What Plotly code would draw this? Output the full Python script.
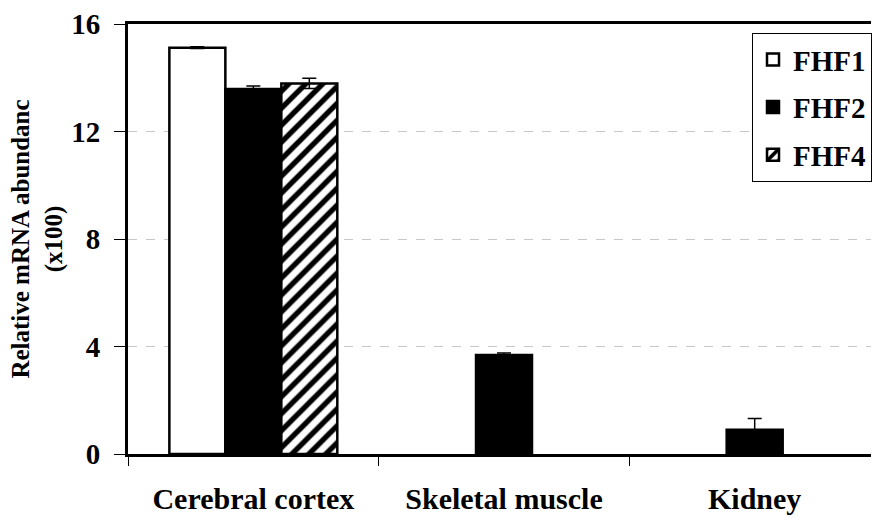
import plotly.graph_objects as go

categories = ["Cerebral cortex", "Skeletal muscle", "Kidney"]
fhf1 = [15.12, None, None]
fhf1_err = [0.03, 0, 0]
fhf2 = [13.58, 3.68, 0.9]
fhf2_err = [0.11, 0.08, 0.42]
fhf4 = [13.79, None, None]
fhf4_err = [0.19, 0, 0]
y_ticks = [0, 4, 8, 12, 16]

FONT = "Liberation Serif"

def err(a):
    return dict(type="data", array=a, symmetric=True, color="black", thickness=1.5, width=7)

fig = go.Figure()
fig.add_trace(go.Bar(name="FHF1", x=categories, y=fhf1, error_y=err(fhf1_err),
                     marker=dict(color="white", line=dict(color="black", width=2.5)),
                     legendgroup="a"))
fig.add_trace(go.Bar(name="FHF2", x=categories, y=fhf2, error_y=err(fhf2_err),
                     marker=dict(color="black", line=dict(color="black", width=2.5)),
                     legendgroup="b"))
fig.add_trace(go.Bar(name="FHF4", x=categories, y=fhf4, error_y=err(fhf4_err),
                     marker=dict(color="white", line=dict(color="black", width=2.5),
                                 pattern=dict(shape="/", fgcolor="black", bgcolor="white",
                                              size=12, solidity=0.45, fillmode="replace")),
                     legendgroup="c"))

fig.update_layout(
    width=872, height=518,
    margin=dict(l=128, r=0, t=24, b=64),
    plot_bgcolor="white", paper_bgcolor="white",
    barmode="group", bargap=0.33, bargroupgap=0,
    font=dict(family=FONT, color="black", size=28, weight="bold"),
    showlegend=True,
    legend=dict(x=0.84, y=0.979, xanchor="left", yanchor="top",
                bordercolor="black", borderwidth=1, bgcolor="white",
                font=dict(size=29, family=FONT, weight="bold"),
                tracegroupgap=7, itemwidth=30),
    xaxis=dict(type="category", range=[-0.5, 2.464],
               showline=True, linecolor="black", linewidth=3, mirror=True,
               ticks="outside", tickson="boundaries", ticklen=9, tickcolor="black", tickwidth=1,
               ticklabelstandoff=16,
               tickfont=dict(size=30, family=FONT, weight="bold"), showgrid=False),
    yaxis=dict(range=[0, 16], tickvals=y_ticks, ticktext=[str(v) for v in y_ticks],
               showline=True, linecolor="black", linewidth=3,
               ticks="outside", ticklen=11, tickcolor="black", tickwidth=1,
               ticklabelstandoff=8,
               tickfont=dict(size=29, family=FONT, weight="bold"),
               showgrid=True, gridcolor="#c8c8c8", griddash="dash", gridwidth=1,
               zeroline=False,
               title=dict(text="Relative mRNA abundanc<br>(x100)",
                          font=dict(size=25, family=FONT, weight="bold"), standoff=2)),
)

fig.write_html("out.html")
